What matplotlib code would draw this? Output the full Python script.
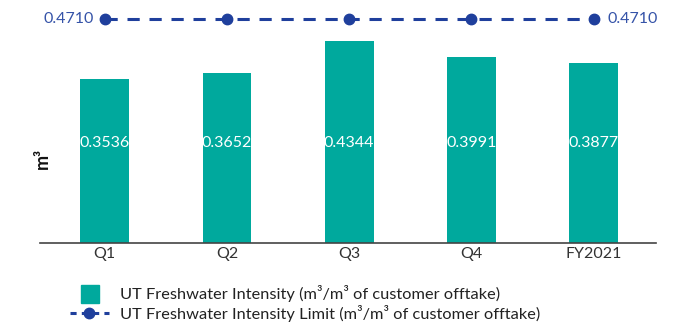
import matplotlib
matplotlib.use("Agg")
import matplotlib.pyplot as plt
from matplotlib.patches import Rectangle
from matplotlib.lines import Line2D

categories = ["Q1", "Q2", "Q3", "Q4", "FY2021"]
intensity = [0.3536, 0.3652, 0.4344, 0.3991, 0.3877]
limit = [0.4710, 0.4710, 0.4710, 0.4710, 0.4710]
bar_label = "UT Freshwater Intensity (m³/m³ of customer offtake)"
line_label = "UT Freshwater Intensity Limit (m³/m³ of customer offtake)"

TEAL = "#00a99d"
BLUE = "#1f3f9c"
LBLUE = "#3553a8"
FONT = ["Lato", "DejaVu Sans"]
plt.rcParams["font.family"] = FONT
DASH = (0, (4.0, 3.2))

W, H = 679, 326
fig = plt.figure(figsize=(W / 100, H / 100), dpi=100)
ax = fig.add_axes([40 / W, 83 / H, 616 / W, 232.5 / H])
x = list(range(len(categories)))
ax.bar(x, intensity, width=0.40, color=TEAL, zorder=2)
ax.set_xlim(-0.53, 4.51)
ax.set_ylim(0, 0.5)
for s in ["top", "right", "left"]:
    ax.spines[s].set_visible(False)
ax.spines["bottom"].set_color("#444444")
ax.spines["bottom"].set_linewidth(1.2)
ax.set_yticks([])
ax.set_xticks(x)
ax.set_xticklabels(categories, fontsize=11.5, color="#333333")
ax.tick_params(axis="x", length=0, pad=3)
for xi, v in zip(x, intensity):
    ax.text(xi, 0.215, f"{v:.4f}", ha="center", va="center", color="white",
            fontsize=11.5)

ax2 = ax.twinx()
ax2.set_ylim(0, 0.4889)
ax2.set_xlim(ax.get_xlim())
ax2.axis("off")
ax2.plot(x, limit, color=BLUE, linestyle=DASH, linewidth=2.2,
         marker="o", markersize=7.5, zorder=3)
ax2.annotate(f"{limit[0]:.4f}", (x[0], limit[0]), xytext=(-8, 0),
             textcoords="offset points", ha="right", va="center",
             color=LBLUE, fontsize=11.5)
ax2.annotate(f"{limit[-1]:.4f}", (x[-1], limit[-1]), xytext=(10, 0),
             textcoords="offset points", ha="left", va="center",
             color=LBLUE, fontsize=11.5)

fig.text(42 / W, 1 - 158 / H, "m³", rotation=90, ha="center", va="center",
         fontsize=13, fontweight="bold", color="#111111")

# legend
fig.add_artist(Rectangle((81 / W, 1 - 303 / H), 18 / W, 18 / H,
                         transform=fig.transFigure, color=TEAL))
fig.add_artist(Line2D([70 / W, 109 / W], [1 - 313 / H, 1 - 313 / H],
                      transform=fig.transFigure, color=BLUE,
                      linestyle=(0, (2.0, 1.7)), linewidth=2.2))
fig.add_artist(Line2D([89 / W], [1 - 313 / H], transform=fig.transFigure,
                      color=BLUE, marker="o", markersize=7.5, linestyle="none"))
fig.text(120 / W, 1 - 294 / H, bar_label, ha="left", va="center",
         fontsize=11.8, color="#222222")
fig.text(120 / W, 1 - 313 / H, line_label, ha="left", va="center",
         fontsize=11.8, color="#222222")

fig.savefig("out.png", dpi=100)
